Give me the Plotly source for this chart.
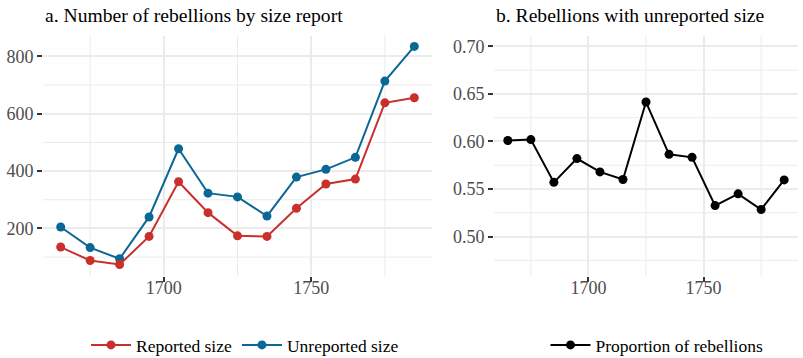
import plotly.graph_objects as go

# Decade midpoints
years = [1665, 1675, 1685, 1695, 1705, 1715, 1725, 1735, 1745, 1755, 1765, 1775, 1785]

# Number of rebellions per decade, by whether a size was reported
reported = [135, 88, 74, 172, 363, 255, 174, 172, 270, 355, 372, 638, 656]
unreported = [205, 133, 94, 240, 478, 323, 310, 243, 379, 406, 448, 714, 835]

# Share of rebellions with unreported size
proportion = [0.601, 0.602, 0.557, 0.582, 0.568, 0.560, 0.6415, 0.5865,
              0.5833, 0.5326, 0.5449, 0.5284, 0.5596]

x_ticks = [1700, 1750]
left_y_ticks = [200, 400, 600, 800]
right_y_ticks = [0.50, 0.55, 0.60, 0.65, 0.70]

RED = "#C9302C"
BLUE = "#0B6895"
FONT = "Liberation Serif"
GRID = "#EBEBEB"
W, H = 803, 358

fig = go.Figure()

fig.add_trace(go.Scatter(
    x=years, y=unreported, mode="lines+markers", name="Unreported size",
    line=dict(color=BLUE, width=2), marker=dict(color=BLUE, size=9),
    xaxis="x", yaxis="y", legend="legend", legendrank=2,
))
fig.add_trace(go.Scatter(
    x=years, y=reported, mode="lines+markers", name="Reported size",
    line=dict(color=RED, width=2), marker=dict(color=RED, size=9),
    xaxis="x", yaxis="y", legend="legend", legendrank=1,
))
fig.add_trace(go.Scatter(
    x=years, y=proportion, mode="lines+markers", name="Proportion of rebellions",
    line=dict(color="black", width=2), marker=dict(color="black", size=9),
    xaxis="x2", yaxis="y2", legend="legend2",
))

# ggplot-style minor gridlines at the midpoints between major breaks
for xr, yr, xref, yref, xminor, yminor in [
    ((1659, 1791), (34, 873), "x", "y", [1675, 1725, 1775], [100, 300, 500, 700]),
    ((1659, 1791), (0.4585, 0.7115), "x2", "y2", [1675, 1725, 1775],
     [0.475, 0.525, 0.575, 0.625, 0.675]),
]:
    for xv in xminor:
        fig.add_shape(type="line", xref=xref, yref=yref, x0=xv, x1=xv,
                      y0=yr[0], y1=yr[1], line=dict(color=GRID, width=1),
                      layer="below")
    for yv in yminor:
        fig.add_shape(type="line", xref=xref, yref=yref, x0=xr[0], x1=xr[1],
                      y0=yv, y1=yv, line=dict(color=GRID, width=1),
                      layer="below")

tick_font = dict(family=FONT, size=18, color="#4D4D4D")
axis_common = dict(
    showline=False, zeroline=False, gridcolor=GRID, gridwidth=2,
    ticks="outside", ticklen=5, tickwidth=1.5, tickcolor="#333333",
    tickfont=tick_font, automargin=False,
)
x_axis_common = dict(axis_common, ticklabelstandoff=-10)
legend_font = dict(family=FONT, size=17.5, color="black")

left_dom = [43 / W, 432 / W]
right_dom = [494 / W, 798 / W]
y_dom = [1 - 276 / H, 1 - 35.5 / H]

fig.update_layout(
    width=W, height=H,
    margin=dict(l=0, r=0, t=0, b=0, autoexpand=False),
    paper_bgcolor="white", plot_bgcolor="white",
    font=dict(family=FONT, color="black", size=18),
    xaxis=dict(domain=left_dom, range=[1659, 1791], tickvals=x_ticks,
               anchor="y", **x_axis_common),
    yaxis=dict(domain=y_dom, range=[34, 873], tickvals=left_y_ticks,
               anchor="x", **axis_common),
    xaxis2=dict(domain=right_dom, range=[1659, 1791], tickvals=x_ticks,
                anchor="y2", **x_axis_common),
    yaxis2=dict(domain=y_dom, range=[0.4585, 0.7115], tickvals=right_y_ticks,
                tickformat=".2f", anchor="x2", **axis_common),
    legend=dict(orientation="h", x=245 / W, xanchor="center",
                y=-5 / H, yanchor="bottom", itemwidth=40,
                font=legend_font,
                bgcolor="rgba(0,0,0,0)", traceorder="normal"),
    legend2=dict(orientation="h", x=657 / W, xanchor="center",
                 y=-5 / H, yanchor="bottom", itemwidth=40,
                 font=legend_font,
                 bgcolor="rgba(0,0,0,0)"),
    annotations=[
        dict(text="a. Number of rebellions by size report", xref="paper",
             yref="paper", x=43 / W, y=1 - 15 / H, xanchor="left",
             yanchor="middle", showarrow=False,
             font=dict(family=FONT, size=19.6, color="black")),
        dict(text="b. Rebellions with unreported size", xref="paper",
             yref="paper", x=494 / W, y=1 - 15 / H, xanchor="left",
             yanchor="middle", showarrow=False,
             font=dict(family=FONT, size=19.6, color="black")),
    ],
)

fig.write_html("out.html")
